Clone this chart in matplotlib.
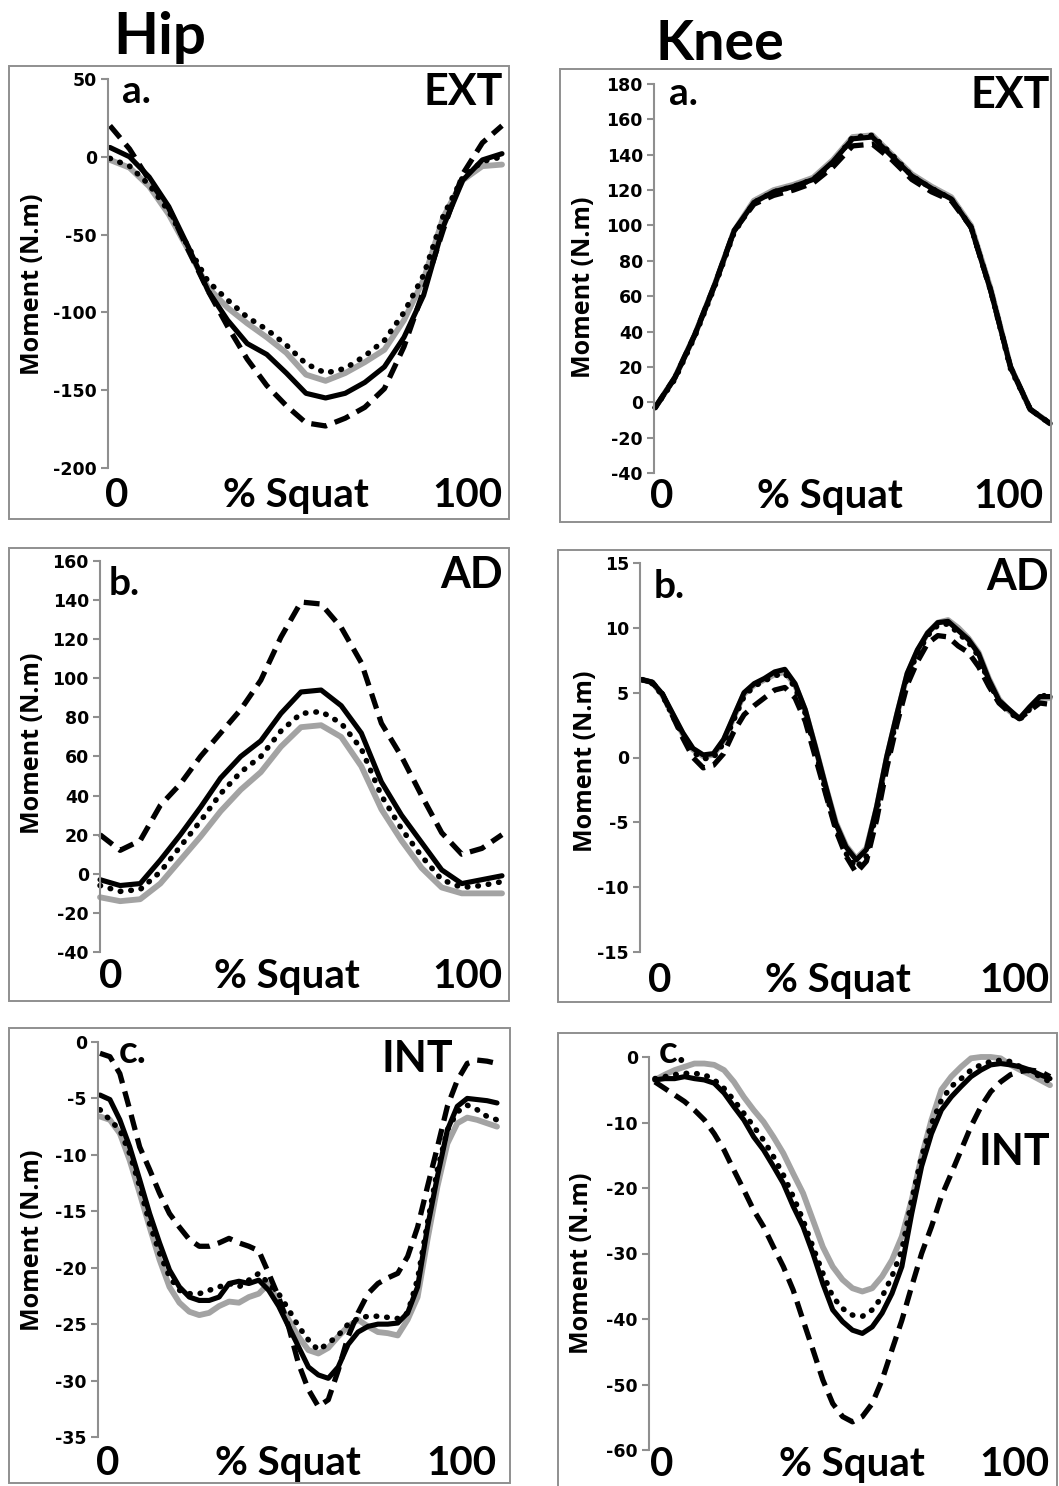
import numpy as np
import matplotlib.pyplot as plt
from matplotlib.patches import Rectangle

W, H = 1059, 1486

# % of squat
pct5 = np.arange(0, 101, 5)
pct25 = np.arange(0, 100.1, 2.5)

# Hip a. EXT
hip_ext_gray = [-2, -7, -19, -37, -60, -84, -97, -107, -116, -126, -140, -144, -139, -132, -124, -105, -79, -39, -15, -6, -5]
hip_ext_solid = [6, 0, -13, -32, -58, -86, -105, -120, -127, -139, -152, -155, -152, -145, -135, -116, -89, -45, -15, -2, 2]
hip_ext_dotted = [-1, -6, -18, -35, -58, -80, -92, -103, -111, -121, -133, -139, -136, -128, -118, -100, -76, -38, -13, -3, 0]
hip_ext_dashed = [20, 5, -15, -33, -60, -86, -109, -130, -147, -160, -171, -173, -168, -161, -149, -122, -86, -47, -11, 9, 20]

# Knee a. EXT
knee_ext_gray = [-3, 14, 38, 66, 97, 114, 120, 123, 127, 137, 150, 151, 140, 129, 122, 116, 100, 64, 20, -4, -12]
knee_ext_solid = [-3, 14, 38, 66, 97, 113, 119, 122, 126, 136, 149, 150, 139, 128, 121, 115, 99, 63, 20, -4, -12]
knee_ext_dotted = [-3, 13, 37, 65, 96, 113, 119, 122, 126, 135, 150, 151, 140, 128, 121, 115, 99, 63, 19, -4, -12]
knee_ext_dashed = [-3, 14, 38, 66, 97, 112, 117, 120, 124, 133, 145, 146, 137, 126, 119, 114, 99, 63, 20, -4, -12]

# Hip b. AD
hip_ad_gray = [-12, -14, -13, -5, 7, 19, 32, 43, 52, 65, 75, 76, 70, 55, 33, 17, 3, -7, -10, -10, -10]
hip_ad_solid = [-3, -6, -5, 7, 20, 34, 49, 60, 68, 82, 93, 94, 86, 72, 47, 30, 16, 2, -5, -3, -1]
hip_ad_dotted = [-6, -9, -8, 1, 14, 27, 41, 52, 60, 73, 82, 83, 77, 64, 40, 23, 9, -3, -7, -6, -4]
hip_ad_dashed = [20, 12, 17, 35, 46, 60, 72, 84, 99, 121, 139, 138, 126, 108, 77, 60, 40, 21, 10, 13, 20]

# Knee b. AD
knee_ad_gray = [6.0, 5.8, 4.8, 3.3, 1.8, 0.6, 0.1, 0.2, 1.3, 3.1, 4.9, 5.6, 6.0, 6.4, 6.6, 5.6, 3.6, 0.8, -2.2, -5.0,
                -6.8, -7.8, -7.0, -3.9, 0.0, 3.3, 6.4, 8.2, 9.6, 10.4, 10.6, 10.0, 9.2, 8.1, 6.1, 4.5, 3.6, 3.0, 3.8, 4.6, 4.6]
knee_ad_solid = [6.0, 5.8, 4.9, 3.4, 1.9, 0.7, 0.2, 0.3, 1.4, 3.2, 5.0, 5.7, 6.1, 6.6, 6.8, 5.7, 3.7, 0.8, -2.2, -5.1,
                 -6.9, -7.9, -7.1, -3.8, 0.1, 3.4, 6.5, 8.3, 9.6, 10.4, 10.5, 9.8, 9.1, 8.0, 6.0, 4.4, 3.7, 3.0, 3.9, 4.7, 4.7]
knee_ad_dotted = [6.0, 5.7, 4.8, 3.2, 1.7, 0.4, -0.1, 0.0, 1.1, 2.9, 4.7, 5.5, 5.9, 6.3, 6.5, 5.4, 3.4, 0.5, -2.6, -5.5,
                  -7.4, -8.5, -7.6, -4.2, -0.3, 3.1, 6.2, 8.0, 9.4, 10.2, 10.3, 9.6, 8.9, 7.8, 5.8, 4.3, 3.5, 2.9, 3.7, 4.6, 5.0]
knee_ad_dashed = [6.0, 5.8, 4.9, 3.2, 1.5, 0.0, -0.8, -0.6, 0.3, 2.0, 3.3, 4.0, 4.6, 5.2, 5.4, 4.6, 2.8, 0.0, -2.8, -5.6,
                  -7.6, -8.9, -8.0, -4.8, -0.8, 2.6, 5.6, 7.4, 8.8, 9.4, 9.3, 8.6, 8.1, 7.0, 5.5, 4.2, 3.5, 3.0, 3.6, 4.2, 4.1]

# Hip c. INT
hip_int_gray = [-6.6, -6.9, -8.1, -10.5, -13.4, -16.4, -19.3, -21.7, -23.1, -23.9, -24.2, -24.0, -23.4, -23.0, -23.1,
                -22.6, -22.3, -21.4, -23.1, -24.6, -26.1, -27.3, -27.6, -27.1, -26.1, -25.2, -24.6, -25.2, -25.7, -25.8,
                -26.0, -24.6, -22.6, -17.5, -12.8, -9.0, -7.2, -6.7, -6.9, -7.2, -7.5]
hip_int_solid = [-4.7, -5.1, -6.9, -9.3, -12.2, -15.2, -17.8, -20.2, -21.7, -22.6, -22.9, -22.9, -22.6, -21.4, -21.2,
                 -21.4, -21.1, -22.0, -23.4, -25.2, -27.0, -28.8, -29.5, -29.8, -28.8, -26.8, -25.7, -25.2, -25.0, -25.0,
                 -24.9, -24.0, -21.7, -16.4, -11.9, -7.8, -5.7, -5.0, -5.1, -5.2, -5.4]
hip_int_dotted = [-6.0, -6.9, -7.8, -9.9, -12.8, -16.1, -18.7, -20.8, -22.0, -22.3, -22.3, -22.0, -21.7, -21.4, -21.7,
                  -21.1, -20.5, -21.4, -22.3, -23.7, -25.2, -26.4, -27.3, -26.7, -26.0, -25.0, -24.5, -24.3, -24.3, -24.4,
                  -24.5, -24.0, -21.0, -16.0, -11.3, -7.8, -6.2, -5.6, -6.0, -6.6, -6.9]
hip_int_dashed = [-1.0, -1.3, -2.8, -6.0, -9.3, -11.3, -13.4, -15.2, -16.4, -17.5, -18.1, -18.1, -17.8, -17.4, -17.8,
                  -18.1, -18.5, -20.5, -22.6, -25.2, -28.5, -30.8, -32.3, -31.7, -29.1, -26.1, -24.0, -22.3, -21.4, -20.9,
                  -20.5, -19.0, -16.4, -12.8, -9.3, -5.7, -3.4, -1.9, -1.6, -1.7, -1.9]

# Knee c. INT
knee_int_gray = [-3.5, -2.7, -2.0, -1.5, -1.0, -1.0, -1.2, -2.0, -3.8, -6.1, -8.1, -9.9, -12.2, -14.7, -17.8, -20.8,
                 -24.9, -29.0, -32.0, -34.0, -35.3, -35.8, -35.3, -33.5, -31.0, -27.4, -21.8, -15.2, -9.6, -5.0, -3.0,
                 -1.5, -0.2, 0.0, 0.0, -0.2, -1.2, -2.0, -2.7, -3.5, -4.3]
knee_int_solid = [-3.5, -3.3, -3.3, -3.0, -3.3, -3.5, -4.0, -5.5, -7.6, -9.6, -12.2, -14.2, -16.7, -19.3, -22.8, -25.9,
                  -30.0, -34.6, -38.6, -40.4, -41.7, -42.2, -41.2, -39.1, -36.1, -32.0, -23.9, -16.7, -11.7, -8.1, -6.1,
                  -4.5, -3.0, -2.0, -1.2, -1.0, -1.2, -1.5, -2.0, -2.7, -3.3]
knee_int_dotted = [-3.3, -3.0, -2.7, -2.5, -2.5, -2.7, -3.5, -4.8, -6.6, -8.6, -10.6, -12.7, -15.2, -18.0, -21.3, -24.9,
                   -29.0, -33.0, -36.6, -38.4, -39.4, -39.6, -38.6, -36.6, -33.5, -29.5, -21.8, -15.2, -10.2, -6.6, -4.5,
                   -3.3, -2.0, -1.2, -0.7, -0.5, -0.7, -1.5, -2.2, -3.0, -3.8]
knee_int_dashed = [-3.8, -4.8, -5.8, -6.8, -8.1, -9.6, -11.7, -14.2, -17.3, -20.3, -23.4, -25.9, -29.0, -32.0, -35.6,
                   -40.2, -44.7, -49.3, -52.9, -54.9, -55.7, -54.9, -52.9, -49.3, -44.7, -40.2, -35.0, -30.0, -25.9,
                   -21.3, -17.8, -14.2, -10.6, -7.6, -5.3, -3.8, -2.7, -2.2, -2.0, -2.2, -3.0]

GRAY = '#a3a3a3'
AXGRAY = '#8f8f8f'
BIG = ['Lato', 'DejaVu Sans']


def fx(x):
    return x / W


def fy(y):
    return 1 - y / H


# layout in pixels: axis x, data end x, top tick y, bottom tick y, frame box,
# letter pos, corner label pos, bottom text baseline and x of "0", "% Squat", "100"
panels = [
    dict(x=pct5, s=[hip_ext_gray, hip_ext_solid, hip_ext_dotted, hip_ext_dashed], ylim=(-200, 50), step=50,
         ax=(108, 502, 79, 468), x0=-0.5, frame=(9, 66, 509, 519), letter='a.', lp=(122, 103),
         tag='EXT', tp=(503, 105), bb=507, bx=(117, 296, 467), yl=(33, 284)),
    dict(x=pct5, s=[knee_ext_gray, knee_ext_solid, knee_ext_dotted, knee_ext_dashed], ylim=(-40, 180), step=20,
         ax=(654, 1050, 84, 473), x0=-0.3, frame=(560, 69, 1051, 522), letter='a.', lp=(669, 105),
         tag='EXT', tp=(1050, 108), bb=508, bx=(662, 830, 1008), yl=(583, 287)),
    dict(x=pct5, s=[hip_ad_gray, hip_ad_solid, hip_ad_dotted, hip_ad_dashed], ylim=(-40, 160), step=20,
         ax=(100, 502, 561, 952), x0=0, frame=(9, 548, 509, 1001), letter='b.', lp=(109, 595),
         tag='AD', tp=(503, 588), bb=988, bx=(111, 287, 467), yl=(33, 743)),
    dict(x=pct25, s=[knee_ad_gray, knee_ad_solid, knee_ad_dotted, knee_ad_dashed], ylim=(-15, 15), step=5,
         ax=(640, 1050, 563, 952), x0=-0.5, frame=(558, 550, 1051, 1002), letter='b.', lp=(654, 598),
         tag='AD', tp=(1049, 590), bb=992, bx=(660, 838, 1014), yl=(585, 761)),
    dict(x=pct25, s=[hip_int_gray, hip_int_solid, hip_int_dotted, hip_int_dashed], ylim=(-35, 0), step=5,
         ax=(98, 497, 1042, 1437), x0=-0.5, frame=(9, 1028, 510, 1483), letter='c.', lp=(119, 1063),
         tag='INT', tp=(453, 1072), bb=1475, bx=(108, 288, 461), yl=(33, 1240)),
    dict(x=pct25, s=[knee_int_gray, knee_int_solid, knee_int_dotted, knee_int_dashed], ylim=(-60, 0), step=10,
         ax=(649, 1050, 1057, 1450), x0=-1.5, frame=(558, 1033, 1057, 1492), letter='c.', lp=(659, 1063),
         tag='INT', tp=(1050, 1165), bb=1476, bx=(662, 852, 1014), yl=(582, 1263)),
]

fig = plt.figure(figsize=(W / 100, H / 100), dpi=100)

for p in panels:
    fl, ft, fr, fb = p['frame']
    fig.add_artist(Rectangle((fx(fl), fy(fb)), fx(fr - fl), (fb - ft) / H, transform=fig.transFigure,
                             fill=False, edgecolor=AXGRAY, linewidth=1.4))

    x0p, x1p, ytp, ybp = p['ax']
    ax = fig.add_axes([fx(x0p), fy(ybp), fx(x1p - x0p), (ybp - ytp) / H])
    ax.patch.set_alpha(0)
    gray, solid, dotted, dashed = p['s']
    ax.plot(p['x'], gray, color=GRAY, lw=4.2, solid_capstyle='round', solid_joinstyle='round', clip_on=False)
    ax.plot(p['x'], solid, color='black', lw=3.7, solid_capstyle='round', solid_joinstyle='round', clip_on=False)
    ax.plot(p['x'], dotted, color='black', lw=4.0, linestyle=(0, (0.1, 1.8)),
            dash_capstyle='round', clip_on=False)
    ax.plot(p['x'], dashed, color='black', lw=3.8, linestyle=(0, (3.0, 1.6)), clip_on=False)

    lo, hi = p['ylim']
    ax.set_ylim(lo, hi)
    ax.set_xlim(p['x0'], 100)
    ax.set_yticks(np.arange(lo, hi + 0.1, p['step']))
    ax.set_yticklabels([f'{v:g}' for v in np.arange(lo, hi + 0.1, p['step'])],
                       fontsize=12.5, fontweight='bold', family='DejaVu Sans')
    ax.set_xticks([])
    for side in ['top', 'right', 'bottom']:
        ax.spines[side].set_visible(False)
    ax.spines['left'].set_color(AXGRAY)
    ax.spines['left'].set_linewidth(1.5)
    ax.tick_params(axis='y', length=5, width=1.5, color=AXGRAY, pad=3)

    fig.text(fx(p['lp'][0]), fy(p['lp'][1]), p['letter'], ha='left', va='baseline',
             fontsize=28, fontweight='bold', family=BIG)
    fig.text(fx(p['tp'][0]), fy(p['tp'][1]), p['tag'], ha='right', va='baseline',
             fontsize=31, fontweight='bold', family=BIG)
    for s, xc in zip(['0', '% Squat', '100'], p['bx']):
        fig.text(fx(xc), fy(p['bb']), s, ha='center', va='baseline',
                 fontsize=29, fontweight='bold', family=BIG)
    fig.text(fx(p['yl'][0]), fy(p['yl'][1]), 'Moment (N.m)', rotation=90, ha='center', va='center',
             fontsize=18, fontweight='bold', family=['Open Sans', 'DejaVu Sans'])

fig.text(fx(160), fy(54), 'Hip', ha='center', va='baseline', fontsize=42, fontweight='bold', family=BIG)
fig.text(fx(720), fy(60), 'Knee', ha='center', va='baseline', fontsize=40, fontweight='bold', family=BIG)

fig.savefig('out.png', dpi=100)
